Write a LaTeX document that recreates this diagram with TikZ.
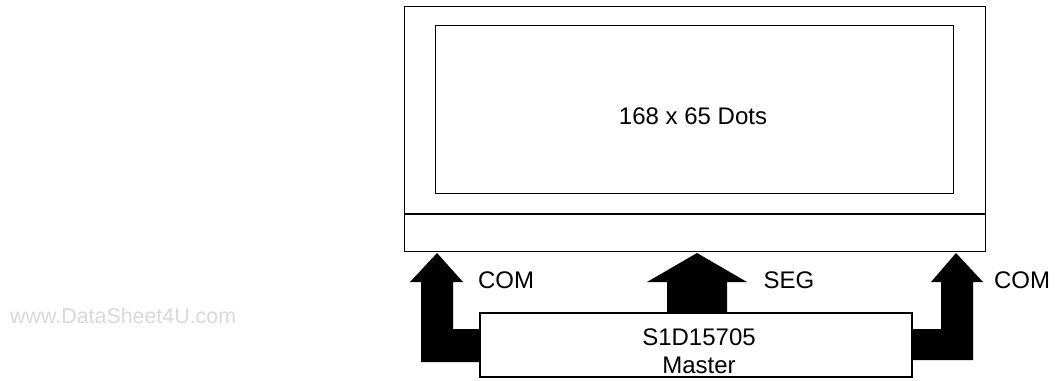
\documentclass[tikz,border=0pt]{standalone}
\usepackage{fontspec}
\setmainfont{Liberation Sans}
\begin{document}
\begin{tikzpicture}[x=1pt,y=-1pt,
  box/.style={draw=black,line width=1.5pt,fill=white,inner sep=0pt},
  lbl/.style={font=\fontsize{24}{28}\selectfont,anchor=base,inner sep=0pt},
  bigarrow/.style={fill=black,draw=none}]
\useasboundingbox (0,0) rectangle (1056,380);
% display
\node[box,minimum width=581pt,minimum height=245pt] (lcd) at (695,129) {};
\node[box,minimum width=518pt,minimum height=168pt] (dots) at (694.5,109.5) {};
\node[lbl] (dotstxt) at (693,124) {168 x 65 Dots};
\coordinate (sepl) at (404,214);
\coordinate (sepr) at (986,214);
\draw[line width=1.5pt] (sepl) -- (sepr);
% arrows
\fill[bigarrow] (437,253) -- (463,282) -- (453,282) -- (453,329) -- (480,329) -- (480,362) -- (421,362) -- (421,282) -- (410,282) -- cycle;
\fill[bigarrow] (956,253) -- (983,282) -- (973,282) -- (973,360) -- (912,360) -- (912,329) -- (941,329) -- (941,282) -- (931,282) -- cycle;
\fill[bigarrow] (697,253) -- (747,282) -- (727,282) -- (727,314) -- (667,314) -- (667,282) -- (647,282) -- cycle;
% master
\node[box,minimum width=432pt,minimum height=64pt] (master) at (696,345) {};
\node[lbl] (m1) at (699,345) {S1D15705};
\node[lbl] (m2) at (699,373) {Master};
% labels
\node[lbl] (coml) at (506,288) {COM};
\node[lbl] (seg) at (789,288) {SEG};
\node[lbl] (comr) at (1022,288) {COM};
\node[lbl,font=\fontsize{21.4}{24}\selectfont,text=black!15,anchor=base west] (wm) at (10,323) {www.DataSheet4U.com};
\end{tikzpicture}
\end{document}
